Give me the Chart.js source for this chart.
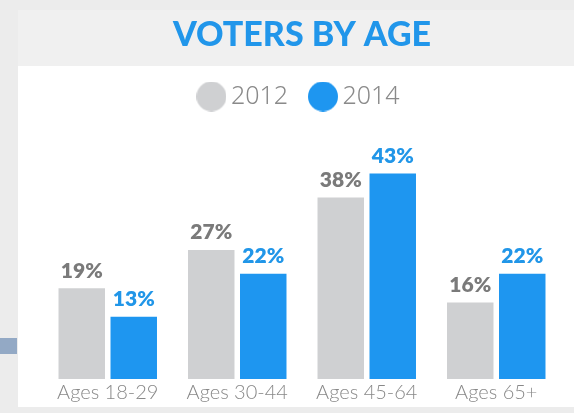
<!DOCTYPE html>
<html>
<head>
<meta charset="utf-8">
<script src="https://cdn.jsdelivr.net/npm/chart.js@4.4.1/dist/chart.umd.min.js"></script>
<style>
  html, body { margin: 0; padding: 0; }
  body { width: 574px; height: 413px; background: #ececec; position: relative; overflow: hidden; }
  .panel { position: absolute; left: 18px; top: 10px; width: 556px; height: 397px; background: #fff; }
  .band { position: absolute; left: 18px; top: 10px; width: 556px; height: 56px; background: #f0f0f0; }
  .tab { position: absolute; left: 0; top: 338px; width: 17px; height: 16px; background: #93a9c5; }
  #votersChart { position: absolute; left: 0; top: 0; }
</style>
</head>
<body>
<div class="panel"></div>
<div class="band"></div>
<div class="tab"></div>
<canvas id="votersChart" width="574" height="413"></canvas>
<script>
// 연령대별 투표자 비율
const ageGroups = ['Ages 18-29', 'Ages 30-44', 'Ages 45-64', 'Ages 65+'];
const years = ['2012', '2014'];
const share2012 = [19, 27, 38, 16];
const share2014 = [13, 22, 43, 22];

const greyBar = '#cfd0d2';
const blueBar = '#1e96f0';
const labelColors = ['#7a7a7a', '#2196e8'];

// 범례용 동그라미 이미지
function legendDot(color) {
    const c = document.createElement('canvas');
    c.width = 30; c.height = 30;
    const g = c.getContext('2d');
    g.fillStyle = color;
    g.beginPath();
    g.arc(15, 15, 15, 0, Math.PI * 2);
    g.fill();
    return c;
}

// 막대 위에 % 값 표시
const valueLabels = {
    id: 'valueLabels',
    afterDatasetsDraw(chart) {
        const ctx = chart.ctx;
        ctx.save();
        ctx.font = '800 21px Lato';
        ctx.textAlign = 'center';
        ctx.textBaseline = 'alphabetic';
        chart.data.datasets.forEach((ds, i) => {
            ctx.fillStyle = labelColors[i];
            chart.getDatasetMeta(i).data.forEach((bar, j) => {
                ctx.fillText(ds.data[j] + '%', bar.x, bar.y - 10.5);
            });
        });
        ctx.restore();
    }
};

const ctx = document.getElementById('votersChart').getContext('2d');
new Chart(ctx, {
    type: 'bar',
    data: {
        labels: ageGroups,
        datasets: [
            { label: years[0], data: share2012, backgroundColor: greyBar },
            { label: years[1], data: share2014, backgroundColor: blueBar }
        ]
    },
    options: {
        responsive: false,
        animation: false,
        categoryPercentage: 0.803,
        barPercentage: 0.894,
        layout: { padding: { left: 43, right: 13, top: 0, bottom: 6 } },
        plugins: {
            title: {
                display: true,
                text: 'VOTERS BY AGE',
                color: '#2196ea',
                font: { family: 'Lato', weight: 900, size: 34, lineHeight: 1 },
                padding: { top: 18, bottom: 4 }
            },
            legend: {
                position: 'top',
                labels: {
                    usePointStyle: true,
                    boxWidth: 14,
                    boxHeight: 14,
                    padding: 28,
                    font: { family: '"Noto Sans", Lato', weight: 300, size: 25 },
                    generateLabels: chart => chart.data.datasets.map((ds, i) => ({
                        text: ds.label,
                        fontColor: '#8a8a8a',
                        fillStyle: ds.backgroundColor,
                        strokeStyle: ds.backgroundColor,
                        lineWidth: 0,
                        pointStyle: legendDot(ds.backgroundColor),
                        hidden: !chart.isDatasetVisible(i),
                        datasetIndex: i
                    }))
                }
            },
            tooltip: { enabled: false }
        },
        scales: {
            x: {
                grid: { display: false, drawTicks: false },
                border: { display: false },
                ticks: {
                    color: '#888888',
                    padding: 2,
                    maxRotation: 0,
                    autoSkip: false,
                    font: { family: 'Lato', weight: 300, size: 20 }
                }
            },
            y: { display: false, min: 0, max: 54.4 }
        }
    },
    plugins: [valueLabels]
});
</script>
</body>
</html>
